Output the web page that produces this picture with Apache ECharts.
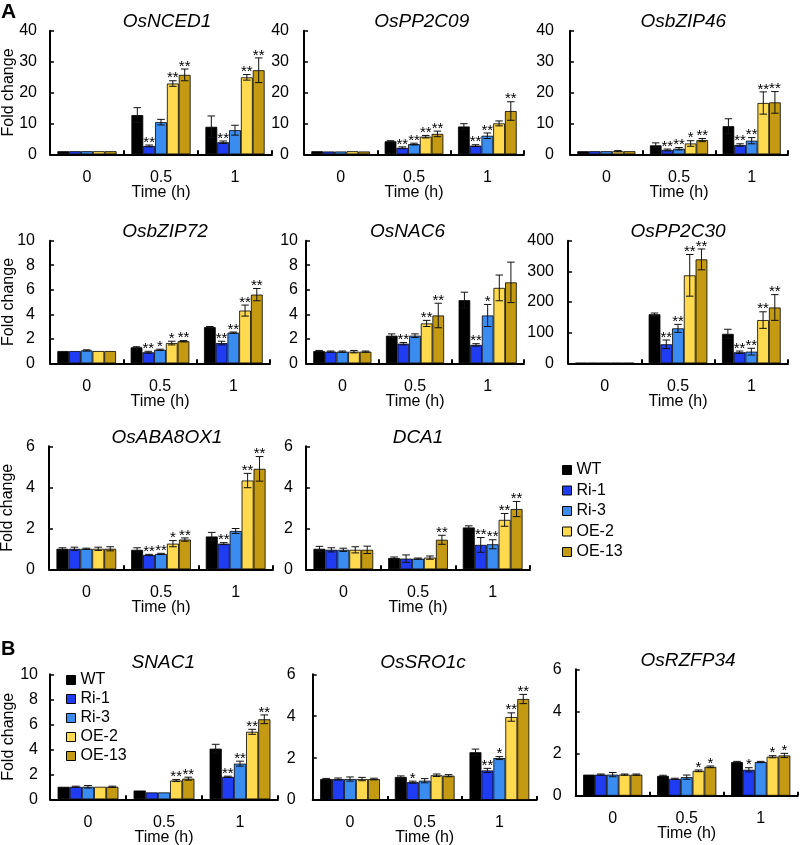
<!DOCTYPE html>
<html>
<head>
<meta charset="utf-8">
<script src="https://cdn.jsdelivr.net/npm/echarts@6/dist/echarts.min.js"></script>
<style>
html,body{margin:0;padding:0;background:#fff;}
#chart{width:800px;height:845px;}
</style>
</head>
<body>
<div id="chart"></div>
<script>
// ---------- DATA ----------
const times = ['0', '0.5', '1'];
const genotypes = ['WT', 'Ri-1', 'Ri-3', 'OE-2', 'OE-13'];

// rows = genotypes (WT, Ri-1, Ri-3, OE-2, OE-13); columns = time 0, 0.5, 1 h
const OsNCED1_mean = [[1, 12.7, 8.9], [1, 2.7, 3.9], [1, 10.4, 7.8], [1, 22.9, 24.9], [1, 25.7, 27.2]];
const OsNCED1_err  = [[0.1, 2.4, 3.5], [0.1, 0.3, 0.4], [0.1, 0.9, 1.6], [0.1, 0.9, 0.9], [0.1, 1.9, 4.0]];
const OsNCED1_sig  = [['', '', ''], ['', '**', '**'], ['', '', ''], ['', '**', '**'], ['', '**', '**']];

const OsPP2C09_mean = [[1, 4.2, 9.0], [0.9, 2.1, 2.8], [0.9, 3.3, 6.0], [1.0, 5.7, 10.0], [0.9, 6.6, 14.0]];
const OsPP2C09_err  = [[0.05, 0.2, 0.9], [0.05, 0.3, 0.3], [0.05, 0.3, 0.9], [0.1, 0.4, 0.8], [0.05, 0.9, 3.0]];
const OsPP2C09_sig  = [['', '', ''], ['', '**', '**'], ['', '**', '**'], ['', '**', ''], ['', '**', '**']];

const OsbZIP46_mean = [[1, 2.9, 9.1], [1, 1.4, 3.0], [1, 1.8, 4.4], [1, 3.5, 16.6], [1, 4.6, 16.8]];
const OsbZIP46_err  = [[0.05, 0.8, 2.4], [0.05, 0.3, 0.4], [0.05, 0.4, 1.0], [0.2, 0.9, 3.6], [0.1, 0.5, 3.5]];
const OsbZIP46_sig  = [['', '', ''], ['', '**', '**'], ['', '**', '**'], ['', '*', '**'], ['', '**', '**']];

const OsbZIP72_mean = [[1, 1.3, 2.95], [1, 0.9, 1.65], [1.05, 1.1, 2.5], [1, 1.65, 4.3], [1, 1.8, 5.6]];
const OsbZIP72_err  = [[0.03, 0.05, 0.05], [0.03, 0.08, 0.15], [0.05, 0.05, 0.05], [0.03, 0.15, 0.45], [0.03, 0.05, 0.5]];
const OsbZIP72_sig  = [['', '', ''], ['', '**', '**'], ['', '*', '**'], ['', '*', '**'], ['', '**', '**']];

const OsNAC6_mean = [[1, 2.25, 5.15], [0.95, 1.6, 1.5], [0.95, 2.25, 3.9], [0.95, 3.25, 6.15], [0.95, 3.9, 6.6]];
const OsNAC6_err  = [[0.05, 0.15, 0.65], [0.05, 0.1, 0.1], [0.05, 0.15, 0.9], [0.1, 0.25, 1.05], [0.05, 1.0, 1.65]];
const OsNAC6_sig  = [['', '', ''], ['', '**', '**'], ['', '', '*'], ['', '**', ''], ['', '**', '']];

const OsPP2C30_mean = [[1, 160, 96], [1, 62, 36], [1, 114, 38], [1, 287, 141], [1, 339, 182]];
const OsPP2C30_err  = [[0.1, 4, 15], [0.1, 14, 4], [0.1, 13, 11], [0.1, 68, 27], [0.1, 34, 42]];
const OsPP2C30_sig  = [['', '', ''], ['', '**', '**'], ['', '**', '**'], ['', '**', '**'], ['', '**', '**']];

const OsABA8OX1_mean = [[1, 0.95, 1.6], [1, 0.7, 1.25], [1, 0.75, 1.87], [1, 1.25, 4.33], [1, 1.45, 4.9]];
const OsABA8OX1_err  = [[0.05, 0.1, 0.2], [0.08, 0.03, 0.05], [0.03, 0.03, 0.12], [0.08, 0.15, 0.35], [0.1, 0.08, 0.6]];
const OsABA8OX1_sig  = [['', '', ''], ['', '**', '**'], ['', '**', ''], ['', '*', '**'], ['', '**', '**']];

const DCA1_mean = [[1, 0.55, 2.04], [0.95, 0.52, 1.19], [0.95, 0.52, 1.22], [0.95, 0.57, 2.41], [0.95, 1.44, 2.94]];
const DCA1_err  = [[0.12, 0.05, 0.08], [0.1, 0.18, 0.36], [0.08, 0.03, 0.22], [0.15, 0.08, 0.31], [0.18, 0.22, 0.37]];
const DCA1_sig  = [['', '', ''], ['', '', '**'], ['', '', '**'], ['', '', '**'], ['', '**', '**']];

const SNAC1_mean = [[1, 0.7, 4.05], [1, 0.55, 1.8], [1, 0.55, 2.85], [1, 1.5, 5.4], [1, 1.65, 6.4]];
const SNAC1_err  = [[0.03, 0.03, 0.35], [0.05, 0.03, 0.05], [0.1, 0.03, 0.2], [0.03, 0.08, 0.2], [0.05, 0.12, 0.35]];
const SNAC1_sig  = [['', '', ''], ['', '', '**'], ['', '', '**'], ['', '**', '**'], ['', '**', '**']];

const OsSRO1c_mean = [[1, 1.1, 2.28], [1, 0.85, 1.41], [1, 0.92, 2.0], [1, 1.18, 3.96], [1, 1.16, 4.82]];
const OsSRO1c_err  = [[0.03, 0.05, 0.15], [0.05, 0.05, 0.1], [0.1, 0.1, 0.07], [0.08, 0.06, 0.2], [0.04, 0.05, 0.22]];
const OsSRO1c_sig  = [['', '', ''], ['', '*', '**'], ['', '', '*'], ['', '', '**'], ['', '', '**']];

const OsRZFP34_mean = [[1, 0.94, 1.6], [1, 0.8, 1.23], [1, 0.88, 1.6], [1, 1.18, 1.85], [1, 1.37, 1.91]];
const OsRZFP34_err  = [[0.02, 0.03, 0.03], [0.03, 0.03, 0.1], [0.1, 0.1, 0.03], [0.03, 0.04, 0.05], [0.03, 0.04, 0.1]];
const OsRZFP34_sig  = [['', '', ''], ['', '', '*'], ['', '', ''], ['', '*', '*'], ['', '*', '*']];

// ---------- LAYOUT / STYLE ----------
const FONT = '"Liberation Sans", Arial, Helvetica, sans-serif';
const colors = ['#000000', '#1f3cf2', '#3b8cf0', '#ffd94e', '#c39a12'];
const GAP = 0.2;

const panels = [
  {t: 'OsNCED1',   m: OsNCED1_mean,   e: OsNCED1_err,   s: OsNCED1_sig,   max: 40,  step: 10,  box: [50, 30.7, 222, 123.6],  tx: 167,   ty: 22,    lm: 13, yn: true},
  {t: 'OsPP2C09',  m: OsPP2C09_mean,  e: OsPP2C09_err,  s: OsPP2C09_sig,  max: 40,  step: 10,  box: [304, 30.7, 220, 123.6], tx: 421.7, ty: 22,    lm: 15, yn: false},
  {t: 'OsbZIP46',  m: OsbZIP46_mean,  e: OsbZIP46_err,  s: OsbZIP46_sig,  max: 40,  step: 10,  box: [570, 30.7, 218, 123.6], tx: 683.3, ty: 22,    lm: 16, yn: false},
  {t: 'OsbZIP72',  m: OsbZIP72_mean,  e: OsbZIP72_err,  s: OsbZIP72_sig,  max: 10,  step: 2,   box: [50, 240.7, 220, 122.6], tx: 165,   ty: 231.7, lm: 15, yn: true},
  {t: 'OsNAC6',    m: OsNAC6_mean,    e: OsNAC6_err,    s: OsNAC6_sig,    max: 10,  step: 2,   box: [306, 240.7, 218, 122.6], tx: 407.5, ty: 231.7, lm: 8, yn: false},
  {t: 'OsPP2C30',  m: OsPP2C30_mean,  e: OsPP2C30_err,  s: OsPP2C30_sig,  max: 400, step: 100, box: [568, 240.7, 220, 122.6], tx: 678,   ty: 231.7, lm: 14, yn: false},
  {t: 'OsABA8OX1', m: OsABA8OX1_mean, e: OsABA8OX1_err, s: OsABA8OX1_sig, max: 6,   step: 2,   box: [49, 446.3, 224, 123],   tx: 167,   ty: 437.5, lm: 14, yn: true},
  {t: 'DCA1',      m: DCA1_mean,      e: DCA1_err,      s: DCA1_sig,      max: 6,   step: 2,   box: [306, 446.3, 224, 123],  tx: 418,   ty: 437.5, lm: 13, yn: false},
  {t: 'SNAC1',     m: SNAC1_mean,     e: SNAC1_err,     s: SNAC1_sig,     max: 10,  step: 2,   box: [50, 674.3, 228, 125],   tx: 163.3, ty: 662.5, lm: 12, yn: true},
  {t: 'OsSRO1c',   m: OsSRO1c_mean,   e: OsSRO1c_err,   s: OsSRO1c_sig,   max: 6,   step: 2,   box: [312.7, 674.3, 224, 125.7], tx: 423, ty: 662.5, lm: 17, yn: false},
  {t: 'OsRZFP34',  m: OsRZFP34_mean,  e: OsRZFP34_err,  s: OsRZFP34_sig,  max: 6,   step: 2,   box: [575.7, 669.3, 222, 126.4], tx: 688, ty: 661,   lm: 14, yn: false}
];

function makeRender(p) {
  return function (params, api) {
    const t = api.value(0), g = api.value(1), m = api.value(2), e = api.value(3);
    const band = api.size([1, 0])[0];
    const inner = band * (1 - GAP);
    const bw = inner / 5;
    const c = api.coord([t, m]);
    const x = c[0] - inner / 2 + (g + 0.5) * bw;
    const yT = api.coord([t, m + e])[1];
    const yB = api.coord([t, Math.max(0, m - e)])[1];
    const cap = bw * 0.32;
    const st = {stroke: '#111', lineWidth: 1};
    const children = [];
    if (yB - yT > 1.2) {
      children.push({type: 'line', shape: {x1: x, y1: yT, x2: x, y2: yB}, style: st});
      children.push({type: 'line', shape: {x1: x - cap, y1: yT, x2: x + cap, y2: yT}, style: st});
      children.push({type: 'line', shape: {x1: x - cap, y1: yB, x2: x + cap, y2: yB}, style: st});
    }
    const s = p.s[g][t];
    if (s) {
      children.push({type: 'text', style: {text: s, x: x, y: yT + 5,
        align: 'center', verticalAlign: 'bottom', textAlign: 'center', textVerticalAlign: 'bottom',
        fontSize: 15, fontFamily: FONT, fill: '#000'}});
    }
    return {type: 'group', children: children};
  };
}

const grid = [], xAxis = [], yAxis = [], series = [], graphic = [];
panels.forEach(function (p, i) {
  grid.push({left: p.box[0], top: p.box[1], width: p.box[2], height: p.box[3], containLabel: false, outerBoundsMode: 'none'});
  xAxis.push({
    type: 'category', gridIndex: i, data: times,
    name: 'Time (h)', nameLocation: 'middle', nameGap: 30, nameMoveOverlap: false,
    nameTextStyle: {fontSize: 16, color: '#000', fontFamily: FONT},
    axisLine: {show: true, lineStyle: {color: '#000', width: 2}},
    axisTick: {show: true, inside: true, length: 4, lineStyle: {color: '#000', width: 2}},
    axisLabel: {show: true, margin: 15, fontSize: 16, color: '#000', fontFamily: FONT},
    splitLine: {show: false}
  });
  yAxis.push({
    type: 'value', gridIndex: i, min: 0, max: p.max, interval: p.step,
    name: p.yn ? 'Fold change' : '', nameLocation: 'middle', nameGap: 33, nameRotate: 90, nameMoveOverlap: false,
    nameTextStyle: {fontSize: 16, color: '#000', fontFamily: FONT},
    axisLine: {show: true, lineStyle: {color: '#000', width: 2}},
    axisTick: {show: true, inside: true, length: 4, lineStyle: {color: '#000', width: 1.5}},
    axisLabel: {show: true, margin: p.lm, fontSize: 16, color: '#000', fontFamily: FONT},
    splitLine: {show: false}
  });
  genotypes.forEach(function (gname, g) {
    series.push({
      type: 'bar', name: gname, xAxisIndex: i, yAxisIndex: i, data: p.m[g],
      barGap: '0%', barCategoryGap: (GAP * 100) + '%',
      itemStyle: {color: colors[g], borderColor: '#000', borderWidth: 0.8},
      emphasis: {disabled: true}, silent: true
    });
  });
  const ed = [];
  for (let g = 0; g < 5; g++) for (let t = 0; t < 3; t++) ed.push([t, g, p.m[g][t], p.e[g][t]]);
  series.push({
    type: 'custom', name: 'err' + i, xAxisIndex: i, yAxisIndex: i, data: ed,
    encode: {x: 0, y: 2}, renderItem: makeRender(p), z: 10, clip: false, silent: true
  });
  graphic.push({type: 'text', style: {text: p.t, x: p.tx, y: p.ty,
    align: 'center', verticalAlign: 'middle', textAlign: 'center', textVerticalAlign: 'middle',
    fontSize: 19, fontStyle: 'italic', fontFamily: FONT, fill: '#000'}});
});
graphic.push({type: 'text', style: {text: 'A', x: 1, y: 2, align: 'left', verticalAlign: 'top', textAlign: 'left', textVerticalAlign: 'top', fontSize: 21, fontWeight: 'bold', fontFamily: FONT, fill: '#000'}});
graphic.push({type: 'text', style: {text: 'B', x: 1, y: 639, align: 'left', verticalAlign: 'top', textAlign: 'left', textVerticalAlign: 'top', fontSize: 20, fontWeight: 'bold', fontFamily: FONT, fill: '#000'}});

const legendBase = {
  data: genotypes, orient: 'vertical', itemWidth: 9, itemHeight: 9, icon: 'rect',
  selectedMode: false, padding: 0,
  textStyle: {fontSize: 16, color: '#000', fontFamily: FONT},
  itemStyle: {borderColor: '#000', borderWidth: 1}
};

const option = {
  animation: false,
  backgroundColor: '#fff',
  textStyle: {fontFamily: FONT},
  grid: grid, xAxis: xAxis, yAxis: yAxis, series: series, graphic: graphic,
  legend: [
    Object.assign({}, legendBase, {left: 562, top: 462, itemGap: 4.5}),
    Object.assign({}, legendBase, {left: 66, top: 672, itemGap: 3})
  ]
};

const chart = echarts.init(document.getElementById('chart'), null, {renderer: 'canvas'});
chart.setOption(option);
</script>
</body>
</html>
